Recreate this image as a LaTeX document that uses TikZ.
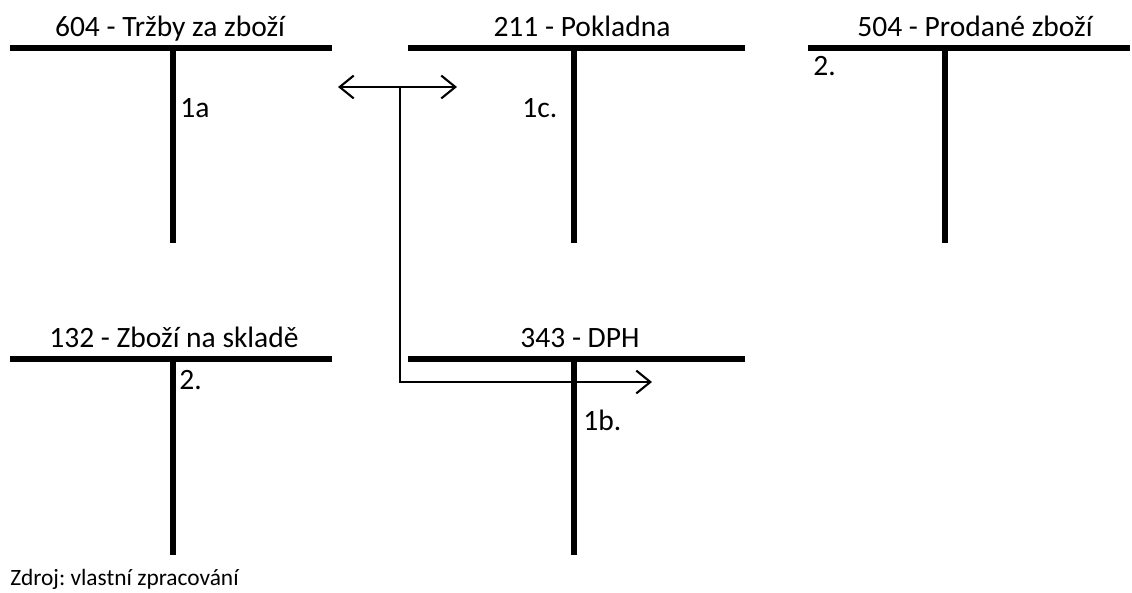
\documentclass[tikz,border=0pt]{standalone}
\usepackage{fontspec}
\setmainfont{Carlito}
\usepackage{tikz}
\usetikzlibrary{arrows.meta,positioning}
\frenchspacing

\begin{document}
\begin{tikzpicture}[x=0.02cm, y=-0.02cm]
	\tikzstyle{every node} = [inner sep=0pt, font=\fontsize{16.8}{20}\selectfont]
	\tikzstyle{bar} = [line width=2.9pt]
	\tikzstyle{arr} = [line width=1.2pt, >={Straight Barb[length=8pt,width=13pt]}]
\useasboundingbox (0,0) rectangle (1132,592);
% account titles
\node[anchor=base] (604) at (170,36) {604 - Tržby za zboží};
\node[anchor=base] (211) at (582,36) {211 - Pokladna};
\node[anchor=base] (504) at (975,36) {504 - Prodané zboží};
\node[anchor=base] (132) at (174,347) {132 - Zboží na skladě};
\node[anchor=base] (343) at (580,347) {343 - DPH};
% T accounts
	\draw[bar] (10,48) -- (332,48);
	\draw[bar] (173,48) -- (173,243);
	\draw[bar] (408,48) -- (745,48);
	\draw[bar] (574,48) -- (574,243);
	\draw[bar] (808,48) -- (1130,48);
	\draw[bar] (945,48) -- (945,243);
	\draw[bar] (10,359) -- (332,359);
	\draw[bar] (173,359) -- (173,555);
	\draw[bar] (408,359) -- (745,359);
	\draw[bar] (574,359) -- (574,555);
% entries
\node[anchor=base west] (e1a) at (180,117) {1a};
\node[anchor=base west] (e1c) at (522,117) {1c.};
\node[anchor=base west] (e2p) at (813,75) {2.};
\node[anchor=base west] (e2s) at (179,389) {2.};
\node[anchor=base west] (e1b) at (583,430) {1b.};
% arrows
\coordinate (left) at (338,87);
\coordinate (right) at (457,87);
\coordinate (split) at (400,87);
\coordinate (corner) at (400,382);
\coordinate (dph) at (652,382);
	\draw[arr, <->] (left) -- (right);
	\draw[arr, ->] (split) -- (corner) -- (dph);
\node[anchor=base west, font=\fontsize{13.3}{16}\selectfont] (zdroj) at (10,585) {Zdroj: vlastní zpracování};
\end{tikzpicture}
\end{document}
